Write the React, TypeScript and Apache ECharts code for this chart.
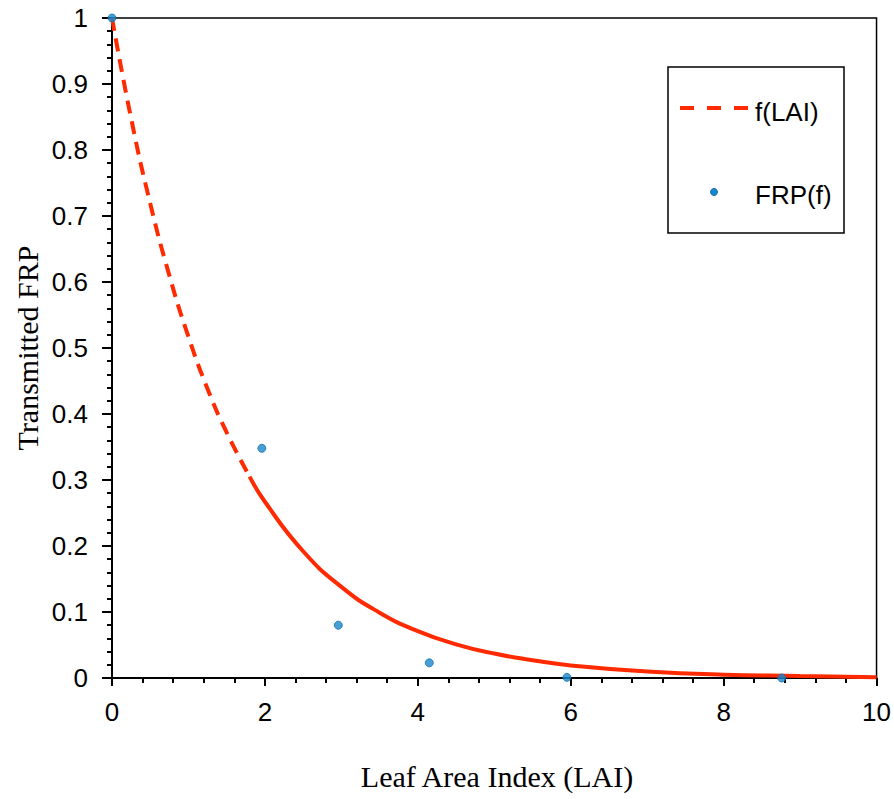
import React, { useEffect, useRef } from "react";
import * as echarts from "echarts";

// Model curve f(LAI)
const curveLAI = [0, 0.25, 0.5, 0.75, 1, 1.25, 1.5, 1.8, 2, 2.5, 3, 3.5, 4, 4.5, 5, 5.5, 6, 7, 8, 9, 10];
const curveFRP = [1, 0.848, 0.719, 0.61, 0.517, 0.438, 0.372, 0.305, 0.267, 0.192, 0.138, 0.099, 0.071, 0.051, 0.037, 0.027, 0.019, 0.01, 0.005, 0.003, 0.001];
const dashedUntil = 1.8;

// Observed points FRP(f)
const obsLAI = [0, 1.96, 2.96, 4.15, 5.95, 8.76];
const obsFRP = [1, 0.348, 0.08, 0.023, 0.001, 0.0];

const xTitle = "Leaf Area Index (LAI)";
const yTitle = "Transmitted FRP";
const lineName = "f(LAI)";
const pointName = "FRP(f)";

const RED = "#ff2a00";
const BLUE = "#1887cc";

export default function App() {
  const ref = useRef<HTMLDivElement>(null);
  useEffect(() => {
    if (!ref.current) return;
    const chart = echarts.init(ref.current, null, { renderer: "svg" });
    const curve = curveLAI.map((x, i) => [x, curveFRP[i]]);
    const dashed = curve.filter((p) => p[0] <= dashedUntil);
    const solid = curve.filter((p) => p[0] >= dashedUntil);
    const pts = obsLAI.map((x, i) => [x, obsFRP[i]]);
    const sans = "Liberation Sans";
    const serif = "Liberation Serif";
    chart.setOption({
      animation: false,
      backgroundColor: "#ffffff",
      grid: {
        left: 112,
        right: 16,
        top: 18,
        bottom: 121,
        show: true,
        borderColor: "#000",
        borderWidth: 1.5,
        backgroundColor: "transparent",
      },
      xAxis: {
        type: "value",
        min: 0,
        max: 10,
        interval: 2,
        axisLine: { lineStyle: { color: "#000", width: 2 } },
        axisTick: { show: true, length: 8, lineStyle: { color: "#000", width: 2 } },
        minorTick: { show: true, splitNumber: 5, length: 5, lineStyle: { color: "#000", width: 2 } },
        splitLine: { show: false },
        axisLabel: { color: "#000", fontSize: 26, fontFamily: sans, margin: 21 },
      },
      yAxis: {
        type: "value",
        min: 0,
        max: 1,
        interval: 0.1,
        axisLine: { lineStyle: { color: "#000", width: 2 } },
        axisTick: { show: true, length: 10, lineStyle: { color: "#000", width: 2 } },
        minorTick: { show: true, splitNumber: 5, length: 5, lineStyle: { color: "#000", width: 2 } },
        splitLine: { show: false },
        axisLabel: { color: "#000", fontSize: 26, fontFamily: sans, margin: 24 },
      },
      series: [
        {
          type: "line",
          name: lineName,
          data: dashed,
          smooth: true,
          showSymbol: false,
          lineStyle: { color: RED, width: 4, type: [13, 8] },
          z: 2,
        },
        {
          type: "line",
          name: lineName,
          data: solid,
          smooth: true,
          showSymbol: false,
          lineStyle: { color: RED, width: 4 },
          z: 2,
        },
        {
          type: "scatter",
          name: pointName,
          data: pts,
          symbol: "circle",
          symbolSize: 8,
          clip: false,
          itemStyle: { color: BLUE, borderColor: "#1570ad", borderWidth: 1 },
          z: 5,
        },
      ],
      graphic: [
        {
          type: "rect",
          shape: { x: 668, y: 67, width: 176, height: 166 },
          style: { fill: "#fff", stroke: "#000", lineWidth: 1.5 },
          z: 10,
        },
        {
          type: "line",
          shape: { x1: 680, y1: 108, x2: 749, y2: 108 },
          style: { stroke: RED, lineWidth: 4, lineDash: [14, 13] },
          z: 11,
        },
        {
          type: "text",
          x: 755,
          y: 112,
          style: { text: lineName, font: `26px "${sans}"`, fill: "#000", verticalAlign: "middle" },
          z: 11,
        },
        {
          type: "circle",
          shape: { cx: 714, cy: 192, r: 3.5 },
          style: { fill: BLUE, stroke: "#1570ad", lineWidth: 1 },
          z: 11,
        },
        {
          type: "text",
          x: 755,
          y: 195,
          style: { text: pointName, font: `26px "${sans}"`, fill: "#000", verticalAlign: "middle" },
          z: 11,
        },
        {
          type: "text",
          x: 497,
          y: 776,
          style: { text: xTitle, font: `30px "${serif}"`, fill: "#000", align: "center", verticalAlign: "middle" },
        },
        {
          type: "text",
          x: 27,
          y: 348,
          rotation: Math.PI / 2,
          style: { text: yTitle, font: `30px "${serif}"`, fill: "#000", align: "center", verticalAlign: "middle" },
        },
      ],
    });
    return () => chart.dispose();
  }, []);
  return (
    <div
      ref={ref}
      style={{ position: "fixed", left: 0, top: 0, width: 894, height: 799, background: "#fff" }}
    />
  );
}
